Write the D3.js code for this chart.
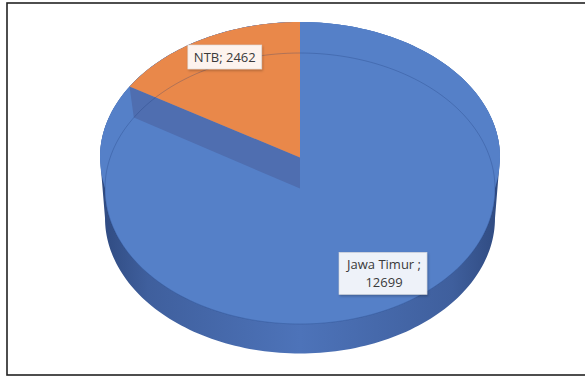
<!DOCTYPE html>
<html>
<head>
<meta charset="utf-8">
<script src="https://cdn.jsdelivr.net/npm/d3@7"></script>
<style>
  html, body { margin: 0; padding: 0; background: #fff; }
  svg { display: block; }
</style>
</head>
<body>
<svg id="chart" width="585" height="377"></svg>
<script>
// Data
const categories = ["Jawa Timur", "NTB"];
const values = [12699, 2462];
const labelTexts = [["Jawa Timur ;", "12699"], ["NTB; 2462"]];
const topColors = ["#5580c8", "#e9884a"];

const svg = d3.select("#chart");

// Frame
svg.append("rect")
  .attr("x", 7).attr("y", 3).attr("width", 600).attr("height", 372)
  .attr("fill", "#fff").attr("stroke", "#222").attr("stroke-width", 1.6);

// 3D pie geometry: upper rim ellipse, lower rim ellipse (cut face), base ellipse
const cx = 300;
const rim = { cy: 157.5, rx: 200, ry: 135.5 };
const cut = { cy: 188.5, rx: 195, ry: 135.5 };
const base = { cy: 218, rx: 195, ry: 135.5 };

const pt = (e, a, f = 1) => [cx + f * e.rx * Math.sin(a), e.cy - f * e.ry * Math.cos(a)];

function ellipseArc(e, a0, a1, n = 120) {
  return d3.range(n + 1).map(i => pt(e, a0 + (a1 - a0) * i / n));
}

const pie = d3.pie().sort(null).value(d => d.value).startAngle(0).endAngle(2 * Math.PI);
const arcs = pie(categories.map((c, i) => ({ name: c, value: values[i] })));

const line = d3.line();
const defs = svg.append("defs");

// Side wall gradient
const g1 = defs.append("linearGradient").attr("id", "side").attr("x1", 0).attr("x2", 1).attr("y1", 0).attr("y2", 0);
g1.append("stop").attr("offset", "0%").attr("stop-color", "#2f4a80");
g1.append("stop").attr("offset", "12%").attr("stop-color", "#3f5f9d");
g1.append("stop").attr("offset", "50%").attr("stop-color", "#4d73b9");
g1.append("stop").attr("offset", "88%").attr("stop-color", "#3f5f9d");
g1.append("stop").attr("offset", "100%").attr("stop-color", "#2f4a80");

// Shadow filter for labels
const f = defs.append("filter").attr("id", "shadow").attr("x", "-20%").attr("y", "-20%").attr("width", "140%").attr("height", "160%");
f.append("feDropShadow").attr("dx", 1).attr("dy", 1.5).attr("stdDeviation", 1.2).attr("flood-color", "#000").attr("flood-opacity", 0.25);

// Silhouette (side wall) : upper half of rim, then lower half of base
const silhouette = ellipseArc(rim, -Math.PI / 2, Math.PI / 2)
  .concat(ellipseArc(base, Math.PI / 2, 3 * Math.PI / 2));
svg.append("path").attr("d", line(silhouette) + "Z").attr("fill", "url(#side)");

// Top face: union of rim ellipse, cut ellipse and the band between them
const topG = svg.append("g").attr("fill", topColors[0]);
topG.append("path").attr("d", line(ellipseArc(rim, 0, 2 * Math.PI, 200)) + "Z");
topG.append("path").attr("d", line(ellipseArc(cut, 0, 2 * Math.PI, 200)) + "Z");
topG.append("path").attr("d", line(ellipseArc(rim, -Math.PI / 2, Math.PI / 2)
  .concat(ellipseArc(cut, Math.PI / 2, 3 * Math.PI / 2))) + "Z");

// Second slice (NTB) with its exposed radial face on the first slice
const ntb = arcs[1];
const face = [[cx, rim.cy], pt(rim, ntb.startAngle), pt(cut, ntb.startAngle), [cx, cut.cy]];
svg.append("path").attr("d", line(face) + "Z").attr("fill", "#4f6eb0");

const sector = [[cx, rim.cy]].concat(ellipseArc(rim, ntb.startAngle, ntb.endAngle, 60));
svg.append("path").attr("d", line(sector) + "Z").attr("fill", topColors[1]);

// Faint inner rim line
svg.append("path")
  .attr("d", line(ellipseArc(cut, 0, 2 * Math.PI, 200)) + "Z")
  .attr("fill", "none").attr("stroke", "#1d3a78").attr("stroke-opacity", 0.28).attr("stroke-width", 1);

// Data labels
const labelPos = [[0.86, 0.98], [0.77, 0.85]];
const labelFill = ["#eef2f9", "#fdf3ee"];
const fontSize = 13;
const lineH = 18;
arcs.forEach((d, i) => {
  const mid = (d.startAngle + d.endAngle) / 2;
  const x = cx + labelPos[i][0] * rim.rx * Math.sin(mid);
  const y = rim.cy - labelPos[i][1] * rim.ry * Math.cos(mid);
  const lines = labelTexts[i];
  const g = svg.append("g").attr("transform", `translate(${x},${y})`);
  const t = g.append("text")
    .attr("text-anchor", "middle")
    .attr("font-family", "'Open Sans', 'Noto Sans', sans-serif")
    .attr("font-size", fontSize)
    .attr("fill", "#3a3a3a");
  lines.forEach((s, k) => {
    t.append("tspan").attr("x", 0)
      .attr("y", (k - (lines.length - 1) / 2) * lineH)
      .attr("dy", "0.36em").text(s);
  });
  const bb = t.node().getBBox();
  g.insert("rect", "text")
    .attr("x", bb.x - 6).attr("y", -(lines.length * lineH) / 2 - 3)
    .attr("width", bb.width + 12).attr("height", lines.length * lineH + 6)
    .attr("fill", labelFill[i]).attr("stroke", "#d9d9d9").attr("stroke-width", 0.6)
    .attr("filter", "url(#shadow)");
});
</script>
</body>
</html>
